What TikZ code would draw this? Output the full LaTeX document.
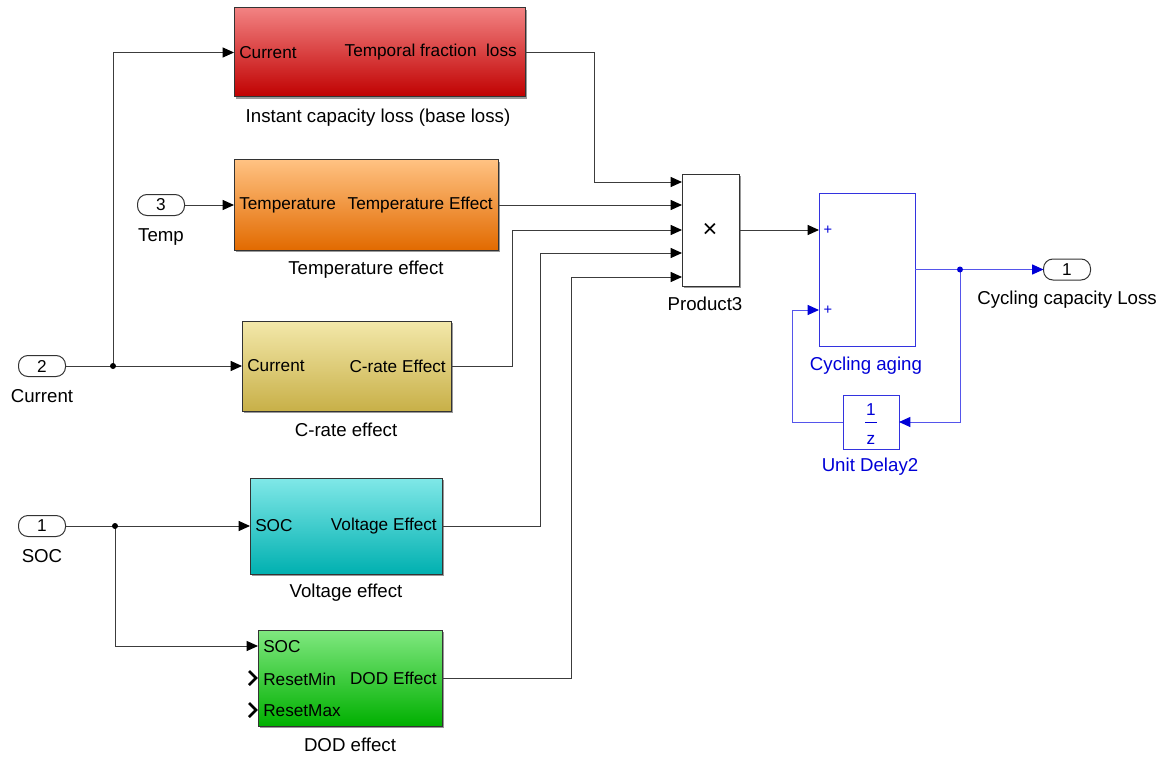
\documentclass[tikz,border=0pt]{standalone}
\usepackage{fontspec}
\setmainfont{Liberation Sans}
\usetikzlibrary{arrows.meta,shadows,calc}
\newlength\pxu \setlength\pxu{0.75pt}
\definecolor{wirec}{RGB}{60,60,60}
\definecolor{sblue}{RGB}{0,0,215}
\definecolor{lblue}{RGB}{85,85,235}
\definecolor{redT}{RGB}{242,130,130}
\definecolor{redB}{RGB}{192,0,0}
\definecolor{oraT}{RGB}{255,194,130}
\definecolor{oraB}{RGB}{226,106,0}
\definecolor{yelT}{RGB}{243,232,170}
\definecolor{yelB}{RGB}{200,176,72}
\definecolor{cyaT}{RGB}{128,232,232}
\definecolor{cyaB}{RGB}{0,176,176}
\definecolor{grnT}{RGB}{128,232,128}
\definecolor{grnB}{RGB}{0,176,0}
\begin{document}
\begin{tikzpicture}[x=0.75pt,y=-0.75pt,
  blk/.style={draw=black!80, line width=0.75pt, inner sep=0pt, outer sep=0pt, anchor=north west,
    drop shadow={shadow xshift=2\pxu, shadow yshift=-2\pxu, fill=black!40, opacity=1}},
  bblk/.style={draw=sblue!80, line width=0.75pt, fill=white, inner sep=0pt, outer sep=0pt, anchor=north west},
  ptxt/.style={font=\fontsize{12.9}{14}\selectfont, inner sep=0pt, text=black},
  lbl/.style={font=\fontsize{14}{16}\selectfont, inner sep=0pt},
  port/.style={draw=black!80, line width=0.75pt, fill=white, rounded corners=9.5\pxu, minimum width=47\pxu, minimum height=21\pxu, inner sep=0pt, outer sep=0pt, font=\fontsize{12.9}{14}\selectfont},
  arr/.tip={Triangle[length=8.5pt,width=7.5pt,color=black]},
  barr/.tip={Triangle[length=8.5pt,width=7.5pt,color=sblue]},
  wire/.style={draw=wirec, line width=0.75pt, -arr},
  bwire/.style={draw=lblue, line width=0.75pt, -barr}
]
\useasboundingbox (0,0) rectangle (1166,756);

% blocks
\node[blk, top color=redT, bottom color=redB, minimum width=291\pxu, minimum height=89\pxu] (red) at (234,8) {};
\node[blk, top color=oraT, bottom color=oraB, minimum width=264\pxu, minimum height=90\pxu] (orange) at (234,160) {};
\node[blk, top color=yelT, bottom color=yelB, minimum width=209\pxu, minimum height=90\pxu] (yellow) at (242,321) {};
\node[blk, top color=cyaT, bottom color=cyaB, minimum width=192\pxu, minimum height=96\pxu] (cyan) at (250,478) {};
\node[blk, top color=grnT, bottom color=grnB, minimum width=184\pxu, minimum height=96\pxu] (green) at (258,630) {};
\node[blk, fill=white, minimum width=57\pxu, minimum height=112\pxu] (prod) at (682,174) {};
\node[bblk, minimum width=96\pxu, minimum height=153\pxu] (cyc) at (819,193) {};
\node[bblk, minimum width=56\pxu, minimum height=54\pxu] (ud) at (843,395) {};

% port texts
\node[ptxt, anchor=west] (t1) at ([xshift=5\pxu]red.west) {Current};
\node[ptxt, anchor=east] (t2) at ([xshift=-8\pxu]red.east) {Temporal fraction\ \ loss};
\node[ptxt, anchor=west] (t3) at ([xshift=5\pxu]orange.west) {Temperature};
\node[ptxt, anchor=east] (t4) at ([xshift=-5\pxu]orange.east) {Temperature Effect};
\node[ptxt, anchor=west] (t5) at ([xshift=5\pxu]yellow.west) {Current};
\node[ptxt, anchor=east] (t6) at ([xshift=-5\pxu]yellow.east) {C-rate Effect};
\node[ptxt, anchor=west] (t7) at ([xshift=5\pxu]cyan.west) {SOC};
\node[ptxt, anchor=east] (t8) at ([xshift=-5\pxu]cyan.east) {Voltage Effect};
\node[ptxt, anchor=west] (t9) at (263,647) {SOC};
\node[ptxt, anchor=west] (t10) at (263,679) {ResetMin};
\node[ptxt, anchor=west] (t11) at (263,711) {ResetMax};
\node[ptxt, anchor=east] (t12) at ([xshift=-5\pxu]green.east) {DOD Effect};
\draw[black, line width=2pt] (249,671) -- (256,678) -- (249,685);
\draw[black, line width=2pt] (249,703) -- (256,710) -- (249,717);

\node[font=\fontsize{19}{19}\selectfont, inner sep=0pt] (times) at (710,230) {×};
\node[font=\fontsize{11}{11}\selectfont, text=sblue, inner sep=0pt] (pl1) at (828,230) {+};
\node[font=\fontsize{11}{11}\selectfont, text=sblue, inner sep=0pt] (pl2) at (828,310) {+};
\node[ptxt, text=sblue] (one) at (871,410) {1};
\draw[sblue, line width=0.75pt] (865,422) -- (877,422);
\node[ptxt, text=sblue] (zz) at (871,440) {z};

% block labels
\node[lbl] (l1) at (378,118) {Instant capacity loss (base loss)};
\node[lbl] (l2) at (366,270) {Temperature effect};
\node[lbl] (l3) at (346,430) {C-rate effect};
\node[lbl] (l4) at (346,593) {Voltage effect};
\node[lbl] (l5) at (350,745) {DOD effect};
\node[lbl] (l6) at (705,304) {Product3};
\node[lbl, text=sblue] (l7) at (866,366) {Cycling aging};
\node[lbl, text=sblue] (l8) at (870,467) {Unit Delay2};

% in/out ports
\node[port] (tport) at (161,205) {3};
\node[lbl] (tl) at (161,237) {Temp};
\node[port] (cport) at (42,366) {2};
\node[lbl] (cl) at (42,396) {Current};
\node[port] (sport) at (42,526) {1};
\node[lbl] (sl) at (42,556) {SOC};
\node[port] (oport) at (1067,269.5) {1};
\node[lbl] (ol) at (1067,300) {Cycling capacity Loss};

% coordinates
\coordinate (pin1) at (682,182);
\coordinate (pin2) at (682,205);
\coordinate (pin3) at (682,230);
\coordinate (pin4) at (682,253);
\coordinate (pin5) at (682,277);
\coordinate (ain1) at (819,230);
\coordinate (ain2) at (819,310);
\coordinate (gsoc) at (258,646);
\coordinate (gout) at (442,678);
\coordinate (jc) at (113,366);
\coordinate (js) at (115,526);
\coordinate (jo) at (960,269.5);

% wires
\draw[wire] (cport.east) -- (yellow.west);
\draw[wire] (jc) |- (red.west);
\fill[black] (jc) circle[radius=3];
\draw[wire] (tport.east) -- (orange.west);
\draw[wire] (sport.east) -- (cyan.west);
\draw[wire] (js) |- (gsoc);
\fill[black] (js) circle[radius=3];
\draw[wire] (red.east) -| (594,182) -- (pin1);
\draw[wire] (orange.east) -- (pin2);
\draw[wire] (yellow.east) -| (512,230) -- (pin3);
\draw[wire] (cyan.east) -| (540,253) -- (pin4);
\draw[wire] (gout) -| (571,277) -- (pin5);
\draw[wire] (prod.east) -- (ain1);
\draw[bwire, -] (cyc.east) -- (jo);
\draw[bwire] (jo) -- (oport.west);
\draw[bwire] (jo) |- (ud.east);
\draw[bwire] (ud.west) -| (792,310) -- (ain2);
\fill[sblue] (jo) circle[radius=3];
\end{tikzpicture}
\end{document}
